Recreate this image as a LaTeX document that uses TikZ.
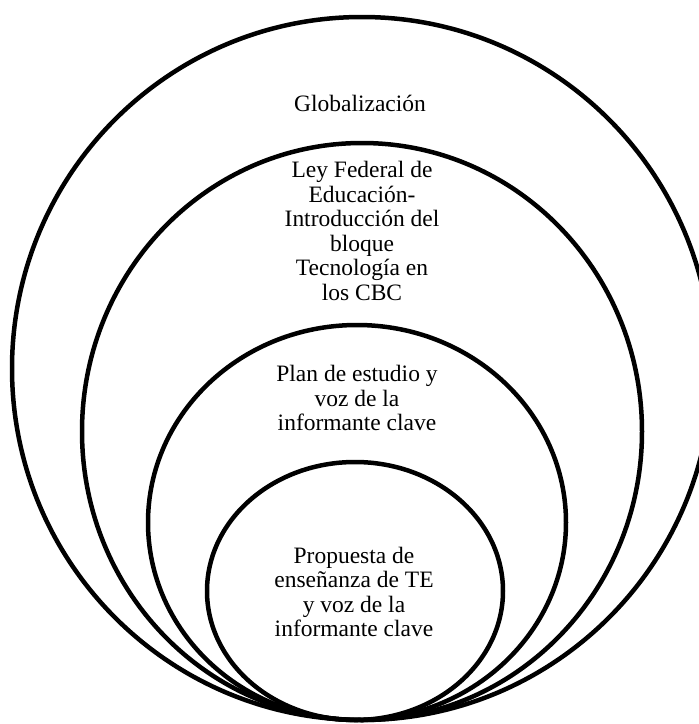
\documentclass[tikz,border=0pt]{standalone}
\usepackage{fontspec}
\setmainfont{Liberation Serif}
\begin{document}
\begin{tikzpicture}[x=1pt,y=-1pt,
  ring/.style={draw=black,line width=4.5pt},
  lbl/.style={align=center,inner sep=0pt,font=\fontsize{23.5}{24.5}\selectfont}]
\useasboundingbox (0,0) rectangle (699,724);
\fill[white] (0,0) rectangle (699,724);
% nested rings, all touching at the bottom
\draw[ring] (362,368.5) ellipse [x radius=350, y radius=351.5];
\draw[ring] (362,431.5) ellipse [x radius=280, y radius=288.5];
\draw[ring] (357,522.5) ellipse [x radius=209, y radius=197.5];
\draw[ring] (355,591) ellipse [x radius=148, y radius=129];
% labels
\node[lbl] (glob) at (360,103) {Globalización};
\node[lbl] (ley) at (362,231) {Ley Federal de\\Educación-\\Introducción del\\bloque\\Tecnología en\\los CBC};
\node[lbl] (plan) at (357,398) {Plan de estudio y\\voz de la\\informante clave};
\node[lbl] (prop) at (354,592) {Propuesta de\\enseñanza de TE\\y voz de la\\informante clave};
\end{tikzpicture}
\end{document}
